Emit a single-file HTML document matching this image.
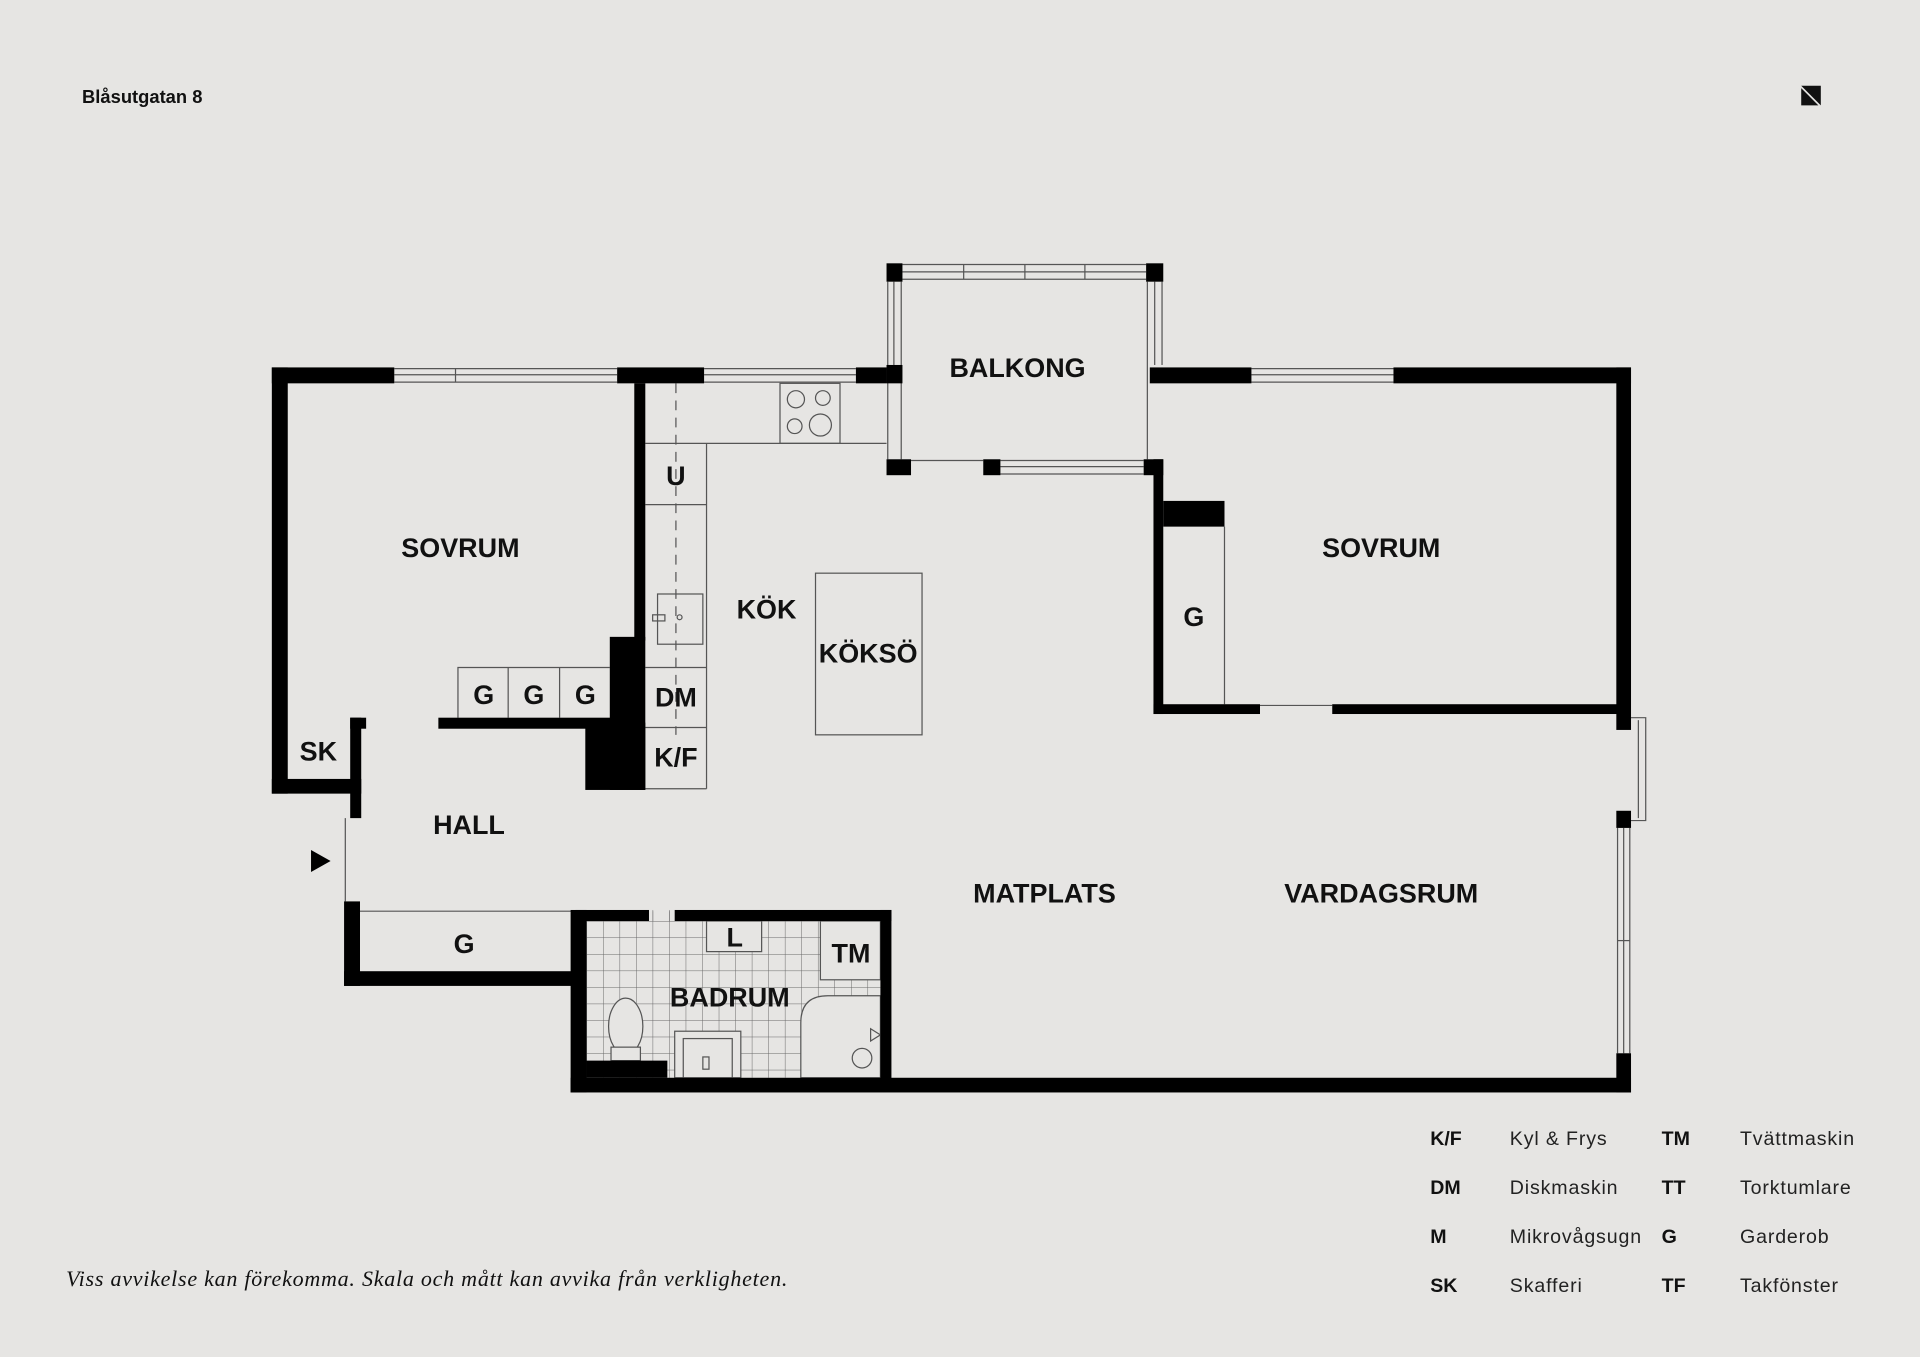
<!DOCTYPE html>
<html><head><meta charset="utf-8"><style>
html,body{margin:0;padding:0;background:#e6e5e3;}
svg{display:block;}
text{font-family:"Liberation Sans",sans-serif;}
</style></head><body>
<svg width="1920" height="1357" viewBox="0 0 1568 1108" preserveAspectRatio="none" xmlns="http://www.w3.org/2000/svg">
<rect width="1568" height="1108" fill="#e6e5e3"/>
<text x="67" y="84" font-size="15" font-weight="bold" fill="#111">Blåsutgatan 8</text>
<polygon points="1471,70 1487,70 1487,86" fill="#111"/>
<polygon points="1471,72 1485,86 1471,86" fill="#111"/>

<g stroke="#555" stroke-width="1" fill="none">
 <line x1="322" y1="301" x2="504" y2="301"/><line x1="322" y1="312" x2="504" y2="312"/><line x1="322" y1="306" x2="504" y2="306"/><line x1="372" y1="301" x2="372" y2="312"/>
 <line x1="575" y1="301" x2="699" y2="301"/><line x1="575" y1="312" x2="699" y2="312"/><line x1="575" y1="306" x2="699" y2="306"/>
 <line x1="737" y1="216" x2="936" y2="216"/><line x1="737" y1="228" x2="936" y2="228"/><line x1="737" y1="222" x2="936" y2="222"/>
 <line x1="787" y1="216" x2="787" y2="228"/><line x1="837" y1="216" x2="837" y2="228"/><line x1="886" y1="216" x2="886" y2="228"/>
 <line x1="725" y1="230" x2="725" y2="375"/><line x1="736" y1="230" x2="736" y2="375"/><line x1="730" y1="230" x2="730" y2="298"/>
 <line x1="937" y1="230" x2="937" y2="375"/><line x1="949" y1="230" x2="949" y2="298"/><line x1="943" y1="230" x2="943" y2="298"/>
 <line x1="744" y1="376" x2="803" y2="376"/><line x1="817" y1="376" x2="934" y2="376"/><line x1="817" y1="387" x2="934" y2="387"/><line x1="817" y1="381" x2="934" y2="381"/>
 <line x1="1022" y1="301" x2="1138" y2="301"/><line x1="1022" y1="312" x2="1138" y2="312"/><line x1="1022" y1="306" x2="1138" y2="306"/>
 <line x1="1029" y1="576" x2="1088" y2="576"/>
 <polyline points="1332,586 1344,586 1344,670 1332,670"/><line x1="1338" y1="588" x2="1338" y2="668"/>
 <line x1="1321" y1="676" x2="1321" y2="860"/><line x1="1331" y1="676" x2="1331" y2="860"/><line x1="1326" y1="676" x2="1326" y2="860"/><line x1="1321" y1="768" x2="1331" y2="768"/>
 <line x1="282" y1="668" x2="282" y2="736"/>
 <line x1="527" y1="362" x2="724" y2="362"/>
 <line x1="577" y1="362" x2="577" y2="644"/>
 <line x1="527" y1="412" x2="577" y2="412"/><line x1="527" y1="545" x2="577" y2="545"/><line x1="527" y1="594" x2="577" y2="594"/><line x1="527" y1="644" x2="577" y2="644"/>
 <rect x="637" y="313" width="49" height="49"/>
 <circle cx="650" cy="326" r="7"/><circle cx="672" cy="325" r="6"/><circle cx="649" cy="348" r="6"/><circle cx="670" cy="347" r="9"/>
 <rect x="537" y="485" width="37" height="41"/><rect x="533" y="502" width="10" height="5"/><circle cx="555" cy="504" r="2"/>
 <line x1="552" y1="313" x2="552" y2="600" stroke-dasharray="8,6"/>
 <rect x="666" y="468" width="87" height="132"/>
 <polyline points="374,586 374,545 498,545"/><line x1="415" y1="545" x2="415" y2="586"/><line x1="457" y1="545" x2="457" y2="586"/>
 <line x1="1000" y1="430" x2="1000" y2="575"/>
 <line x1="294" y1="744" x2="470" y2="744"/>
</g>

<defs><pattern id="tile" x="479" y="752" width="13.5" height="13.5" patternUnits="userSpaceOnUse"><path d="M0 0H13.5M0 0V13.5" stroke="#666" stroke-width="0.8" fill="none"/></pattern></defs>
<rect x="479" y="744" width="240" height="136" fill="url(#tile)"/>
<rect x="530" y="743" width="21" height="9" fill="url(#tile)"/>
<g stroke="#555" stroke-width="1" fill="#e6e5e3">
 <rect x="577" y="752" width="45" height="25"/>
 <rect x="670" y="752" width="49" height="48"/>
 <path d="M654,880 V835 Q654,813 676,813 H719 V880 Z"/>
 <rect x="551" y="842" width="54" height="38"/>
 <rect x="558" y="848" width="40" height="32"/>
 <rect x="574" y="863" width="5" height="10"/>
 <ellipse cx="511" cy="838" rx="14" ry="23"/>
 <rect x="499" y="855" width="24" height="11"/>
 <circle cx="704" cy="864" r="8" fill="none"/>
 <path d="M711,840 L719,845 L711,850 Z" fill="none"/>
</g>

<g fill="#000">
 <rect x="222" y="300" width="100" height="13"/>
 <rect x="222" y="300" width="13" height="348"/>
 <rect x="222" y="636" width="73" height="12"/>
 <rect x="286" y="586" width="13" height="9"/>
 <rect x="286" y="586" width="9" height="82"/>
 <rect x="504" y="300" width="71" height="13"/>
 <rect x="699" y="300" width="25" height="13"/>
 <rect x="518" y="313" width="9" height="210"/>
 <rect x="498" y="520" width="29" height="125"/>
 <rect x="478" y="590" width="49" height="55"/>
 <rect x="358" y="586" width="142" height="9"/>
 <rect x="281" y="736" width="13" height="69"/>
 <rect x="281" y="793" width="189" height="12"/>
 <rect x="466" y="743" width="13" height="149"/>
 <rect x="470" y="743" width="60" height="9"/>
 <rect x="551" y="743" width="177" height="9"/>
 <rect x="719" y="743" width="9" height="140"/>
 <rect x="479" y="866" width="66" height="14"/>
 <rect x="466" y="880" width="866" height="12"/>
 <rect x="1320" y="860" width="12" height="32"/>
 <rect x="1320" y="662" width="12" height="14"/>
 <rect x="1320" y="300" width="12" height="296"/>
 <rect x="1138" y="300" width="194" height="13"/>
 <rect x="939" y="300" width="83" height="13"/>
 <rect x="724" y="215" width="13" height="15"/>
 <rect x="936" y="215" width="14" height="15"/>
 <rect x="724" y="298" width="13" height="15"/>
 <rect x="724" y="375" width="20" height="13"/>
 <rect x="803" y="375" width="14" height="13"/>
 <rect x="934" y="375" width="16" height="13"/>
 <rect x="942" y="375" width="8" height="208"/>
 <rect x="942" y="575" width="87" height="8"/>
 <rect x="1088" y="575" width="238" height="8"/>
 <rect x="950" y="409" width="50" height="21"/>
 <polygon points="254,694 270,703 254,712"/>
</g>

<g font-weight="bold" fill="#111" text-anchor="middle" font-size="22">
 <text x="831" y="308">BALKONG</text>
 <text x="376" y="455">SOVRUM</text>
 <text x="1128" y="455">SOVRUM</text>
 <text x="626" y="505">KÖK</text>
 <text x="709" y="541">KÖKSÖ</text>
 <text x="383" y="681">HALL</text>
 <text x="853" y="737">MATPLATS</text>
 <text x="1128" y="737">VARDAGSRUM</text>
 <text x="596" y="822">BADRUM</text>
 <text x="552" y="396">U</text>
 <text x="552" y="577">DM</text>
 <text x="552" y="626">K/F</text>
 <text x="395" y="575">G</text>
 <text x="436" y="575">G</text>
 <text x="478" y="575">G</text>
 <text x="260" y="621">SK</text>
 <text x="975" y="511">G</text>
 <text x="379" y="778">G</text>
 <text x="600" y="773">L</text>
 <text x="695" y="786">TM</text>
</g>

<g font-size="16" fill="#111">
 <g font-weight="bold">
  <text x="1168" y="935">K/F</text><text x="1168" y="975">DM</text><text x="1168" y="1015">M</text><text x="1168" y="1055">SK</text>
  <text x="1357" y="935">TM</text><text x="1357" y="975">TT</text><text x="1357" y="1015">G</text><text x="1357" y="1055">TF</text>
 </g>
 <g fill="#222" letter-spacing="0.7">
  <text x="1233" y="935">Kyl &amp; Frys</text><text x="1233" y="975">Diskmaskin</text><text x="1233" y="1015">Mikrovågsugn</text><text x="1233" y="1055">Skafferi</text>
  <text x="1421" y="935">Tvättmaskin</text><text x="1421" y="975">Torktumlare</text><text x="1421" y="1015">Garderob</text><text x="1421" y="1055">Takfönster</text>
 </g>
</g>
<text x="54" y="1050" font-size="18" font-style="italic" fill="#111" textLength="589" lengthAdjust="spacing" style="font-family:'Liberation Serif',serif">Viss avvikelse kan förekomma. Skala och mått kan avvika från verkligheten.</text>
</svg>
</body></html>
